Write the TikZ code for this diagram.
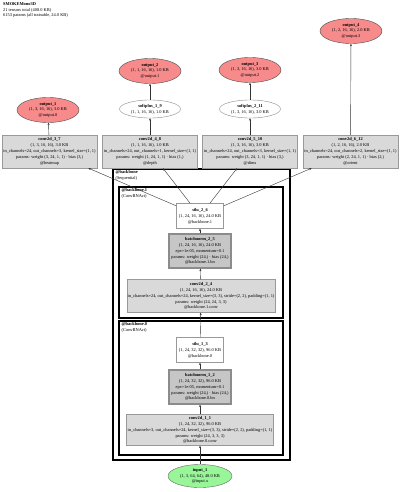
\documentclass[tikz,border=0pt]{standalone}
\usepackage{fontspec}
\setmainfont{Liberation Serif}
\usetikzlibrary{arrows.meta,positioning,shapes.geometric}
\definecolor{opfill}{HTML}{D9D9D9}
\definecolor{bnfill}{HTML}{C6C6C6}
\definecolor{outfill}{HTML}{F78B8B}
\definecolor{infill}{HTML}{98F598}
\newcommand\gfont{\fontsize{4.4}{5.9}\selectfont}
\newcommand\spillline[1]{\makebox[0pt][c]{#1}}
\tikzset{opbox/.style={draw=black!40,fill=opfill,align=center,font=\gfont,inner sep=1pt,minimum width=95pt,minimum height=33pt},
bnbox/.style={draw=black!45,line width=1.3pt,fill=bnfill,align=center,font=\gfont,inner sep=1pt,minimum width=62pt,minimum height=34pt},
actbox/.style={draw=black!40,fill=white,align=center,font=\gfont,inner sep=1pt,minimum width=47pt,minimum height=25pt},
outnode/.style={ellipse,draw=black!70,fill=outfill,align=center,font=\gfont,inner sep=0pt,minimum width=62pt,minimum height=25pt},
fnnode/.style={ellipse,draw=black!45,fill=white,align=center,font=\gfont,inner sep=0pt,minimum width=61pt,minimum height=18pt},
innode/.style={ellipse,draw=black!60,fill=infill,align=center,font=\gfont,inner sep=0pt,minimum width=64pt,minimum height=23pt},
cluster/.style={draw=black,line width=1.1pt,inner sep=0pt},
clabel/.style={anchor=north west,align=left,font=\gfont,inner sep=0pt},
arr/.style={-{Stealth[length=2.4pt,width=2pt]},line width=0.4pt,draw=black!80}}
\begin{document}
\begin{tikzpicture}[x=1pt,y=-1pt]
\useasboundingbox[fill=white](0,0)rectangle(400,492);
\node[clabel](title)at(3,2){\textbf{SMOKEMono3D}\\21 tensors total (408.0 KB)\\6153 params (all trainable, 24.0 KB)};
% clusters
\node[cluster,line width=1.3pt,minimum width=177pt,minimum height=291pt](backbone)at(201.5,314.5){};
\node[clabel]at([shift={(3,1.5)}]backbone.north west){\textbf{@backbone}\\(Sequential)};
\node[cluster,minimum width=164pt,minimum height=131pt](backbone1)at(201,252.5){};
\node[clabel]at([shift={(3,1.5)}]backbone1.north west){\textbf{@backbone.1}\\(ConvBNAct)};
\node[cluster,minimum width=164pt,minimum height=134pt](backbone0)at(201,388){};
\node[clabel]at([shift={(3,1.5)}]backbone0.north west){\textbf{@backbone.0}\\(ConvBNAct)};
% backbone
\node[innode](input_1)at(200,476){\textbf{input\_1}\\(1, 3, 64, 64), 48.0 KB\\@input.x};
\node[opbox,minimum width=147pt,minimum height=31pt](conv2d_1_1)at(200,430){\textbf{conv2d\_1\_1}\\(1, 24, 32, 32), 96.0 KB\\\spillline{in\_channels=3, out\_channels=24, kernel\_size=(3, 3), stride=(2, 2), padding=(1, 1)}\\params: weight (24, 3, 3, 3)\\@backbone.0.conv};
\node[bnbox](batchnorm_1_2)at(200,387){\textbf{batchnorm\_1\_2}\\(1, 24, 32, 32), 96.0 KB\\eps=1e-05, momentum=0.1\\params: weight (24,) · bias (24,)\\@backbone.0.bn};
\node[actbox](silu_1_3)at(200,350){\textbf{silu\_1\_3}\\(1, 24, 32, 32), 96.0 KB\\@backbone.0};
\node[opbox,minimum width=148pt](conv2d_2_4)at(201,296){\textbf{conv2d\_2\_4}\\(1, 24, 16, 16), 24.0 KB\\\spillline{in\_channels=24, out\_channels=24, kernel\_size=(3, 3), stride=(2, 2), padding=(1, 1)}\\params: weight (24, 24, 3, 3)\\@backbone.1.conv};
\node[bnbox](batchnorm_2_5)at(200,251){\textbf{batchnorm\_2\_5}\\(1, 24, 16, 16), 24.0 KB\\eps=1e-05, momentum=0.1\\params: weight (24,) · bias (24,)\\@backbone.1.bn};
\node[actbox](silu_2_6)at(200,216){\textbf{silu\_2\_6}\\(1, 24, 16, 16), 24.0 KB\\@backbone.1};
% heads
\node[opbox](conv2d_3_7)at(49.5,151.5){\textbf{conv2d\_3\_7}\\(1, 3, 16, 16), 3.0 KB\\\spillline{in\_channels=24, out\_channels=3, kernel\_size=(1, 1)}\\params: weight (3, 24, 1, 1) · bias (3,)\\@heatmap};
\node[opbox](conv2d_4_8)at(150,151.5){\textbf{conv2d\_4\_8}\\(1, 1, 16, 16), 1.0 KB\\\spillline{in\_channels=24, out\_channels=1, kernel\_size=(1, 1)}\\params: weight (1, 24, 1, 1) · bias (1,)\\@depth};
\node[opbox](conv2d_5_10)at(250,151.5){\textbf{conv2d\_5\_10}\\(1, 3, 16, 16), 3.0 KB\\\spillline{in\_channels=24, out\_channels=3, kernel\_size=(1, 1)}\\params: weight (3, 24, 1, 1) · bias (3,)\\@dims};
\node[opbox](conv2d_6_12)at(350.5,151.5){\textbf{conv2d\_6\_12}\\(1, 2, 16, 16), 2.0 KB\\\spillline{in\_channels=24, out\_channels=2, kernel\_size=(1, 1)}\\params: weight (2, 24, 1, 1) · bias (2,)\\@orient};
\node[fnnode](softplus_1_9)at(150,109){\textbf{softplus\_1\_9}\\(1, 1, 16, 16), 1.0 KB};
\node[fnnode](softplus_2_11)at(250,109){\textbf{softplus\_2\_11}\\(1, 3, 16, 16), 3.0 KB};
\node[outnode](output_1)at(48,110){\textbf{output\_1}\\(1, 3, 16, 16), 3.0 KB\\@output.0};
\node[outnode](output_2)at(150,71){\textbf{output\_2}\\(1, 1, 16, 16), 1.0 KB\\@output.1};
\node[outnode](output_3)at(250,70){\textbf{output\_3}\\(1, 3, 16, 16), 3.0 KB\\@output.2};
\node[outnode](output_4)at(351,31){\textbf{output\_4}\\(1, 2, 16, 16), 2.0 KB\\@output.3};
% edges
\draw[arr](input_1)--(conv2d_1_1);\draw[arr](conv2d_1_1)--(batchnorm_1_2);
\draw[arr](batchnorm_1_2)--(silu_1_3);\draw[arr](silu_1_3)--(conv2d_2_4);
\draw[arr](conv2d_2_4)--(batchnorm_2_5);\draw[arr](batchnorm_2_5)--(silu_2_6);
\foreach \h in {conv2d_3_7,conv2d_4_8,conv2d_5_10,conv2d_6_12}{\draw[arr](silu_2_6)--(\h);}
\draw[arr](conv2d_3_7)--(output_1);\draw[arr](conv2d_4_8)--(softplus_1_9);\draw[arr](softplus_1_9)--(output_2);
\draw[arr](conv2d_5_10)--(softplus_2_11);\draw[arr](softplus_2_11)--(output_3);\draw[arr](conv2d_6_12)--(output_4);
\end{tikzpicture}
\end{document}
